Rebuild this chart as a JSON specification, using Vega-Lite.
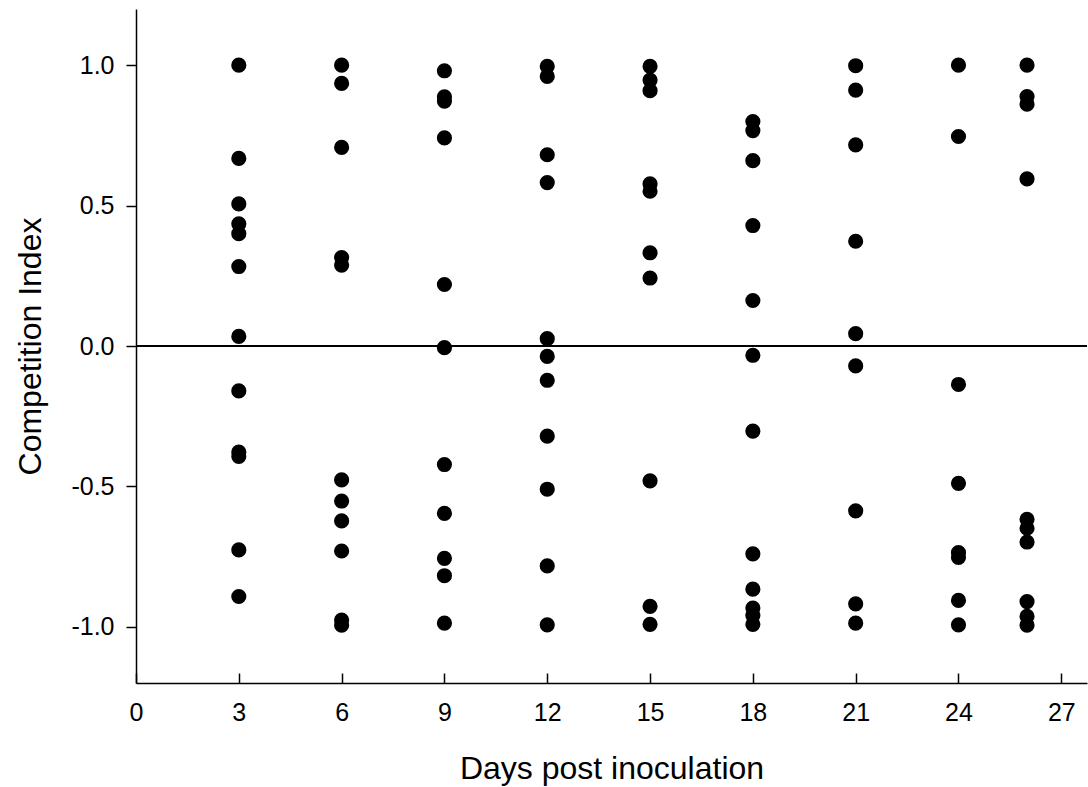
{
  "$schema": "https://vega.github.io/schema/vega-lite/v6.json",
  "width": 951,
  "height": 674,
  "autosize": {"type": "none"},
  "padding": {"left": 136, "top": 9, "right": 1, "bottom": 104},
  "background": "white",
  "config": {
    "view": {"stroke": null},
    "font": "Liberation Sans",
    "axis": {"domainColor": "black", "domainWidth": 1.5, "tickColor": "black", "tickWidth": 1.5, "labelColor": "black", "titleColor": "black", "labelFont": "Liberation Sans", "titleFont": "Liberation Sans", "labelFontSize": 25, "titleFontWeight": "normal", "grid": false}
  },
  "data": {"values": [
    {"day": 3, "ci": 1.0}, {"day": 3, "ci": 0.668}, {"day": 3, "ci": 0.506}, {"day": 3, "ci": 0.435}, {"day": 3, "ci": 0.40}, {"day": 3, "ci": 0.283}, {"day": 3, "ci": 0.034}, {"day": 3, "ci": -0.16}, {"day": 3, "ci": -0.378}, {"day": 3, "ci": -0.393}, {"day": 3, "ci": -0.726}, {"day": 3, "ci": -0.892},
    {"day": 6, "ci": 1.0}, {"day": 6, "ci": 0.935}, {"day": 6, "ci": 0.707}, {"day": 6, "ci": 0.315}, {"day": 6, "ci": 0.288}, {"day": 6, "ci": -0.477}, {"day": 6, "ci": -0.552}, {"day": 6, "ci": -0.623}, {"day": 6, "ci": -0.730}, {"day": 6, "ci": -0.976}, {"day": 6, "ci": -0.994},
    {"day": 9, "ci": 0.98}, {"day": 9, "ci": 0.887}, {"day": 9, "ci": 0.872}, {"day": 9, "ci": 0.741}, {"day": 9, "ci": 0.219}, {"day": 9, "ci": -0.006}, {"day": 9, "ci": -0.422}, {"day": 9, "ci": -0.596}, {"day": 9, "ci": -0.756}, {"day": 9, "ci": -0.818}, {"day": 9, "ci": -0.987},
    {"day": 12, "ci": 0.996}, {"day": 12, "ci": 0.96}, {"day": 12, "ci": 0.681}, {"day": 12, "ci": 0.582}, {"day": 12, "ci": 0.026}, {"day": 12, "ci": -0.037}, {"day": 12, "ci": -0.122}, {"day": 12, "ci": -0.321}, {"day": 12, "ci": -0.510}, {"day": 12, "ci": -0.783}, {"day": 12, "ci": -0.993},
    {"day": 15, "ci": 0.996}, {"day": 15, "ci": 0.947}, {"day": 15, "ci": 0.909}, {"day": 15, "ci": 0.577}, {"day": 15, "ci": 0.551}, {"day": 15, "ci": 0.332}, {"day": 15, "ci": 0.242}, {"day": 15, "ci": -0.48}, {"day": 15, "ci": -0.927}, {"day": 15, "ci": -0.991},
    {"day": 18, "ci": 0.799}, {"day": 18, "ci": 0.767}, {"day": 18, "ci": 0.66}, {"day": 18, "ci": 0.429}, {"day": 18, "ci": 0.162}, {"day": 18, "ci": -0.033}, {"day": 18, "ci": -0.303}, {"day": 18, "ci": -0.740}, {"day": 18, "ci": -0.866}, {"day": 18, "ci": -0.933}, {"day": 18, "ci": -0.96}, {"day": 18, "ci": -0.991},
    {"day": 21, "ci": 0.998}, {"day": 21, "ci": 0.911}, {"day": 21, "ci": 0.716}, {"day": 21, "ci": 0.373}, {"day": 21, "ci": 0.044}, {"day": 21, "ci": -0.071}, {"day": 21, "ci": -0.587}, {"day": 21, "ci": -0.918}, {"day": 21, "ci": -0.987},
    {"day": 24, "ci": 1.0}, {"day": 24, "ci": 0.746}, {"day": 24, "ci": -0.137}, {"day": 24, "ci": -0.489}, {"day": 24, "ci": -0.736}, {"day": 24, "ci": -0.753}, {"day": 24, "ci": -0.906}, {"day": 24, "ci": -0.993},
    {"day": 26, "ci": 1.0}, {"day": 26, "ci": 0.888}, {"day": 26, "ci": 0.861}, {"day": 26, "ci": 0.595}, {"day": 26, "ci": -0.617}, {"day": 26, "ci": -0.649}, {"day": 26, "ci": -0.698}, {"day": 26, "ci": -0.91}, {"day": 26, "ci": -0.963}, {"day": 26, "ci": -0.994}
  ]},
  "layer": [
    {
      "mark": {"type": "rule", "color": "black", "strokeWidth": 1.2},
      "encoding": {"y": {"datum": 0, "type": "quantitative", "scale": {"domain": [-1.2, 1.2]}}}
    },
    {
      "mark": {"type": "circle", "color": "black", "opacity": 1, "size": 230},
      "encoding": {
        "x": {"field": "day", "type": "quantitative", "title": "Days post inoculation",
              "scale": {"domain": [0, 27.75], "nice": false, "zero": false},
              "axis": {"values": [0, 3, 6, 9, 12, 15, 18, 21, 24, 27], "tickSize": -10, "labelPadding": 27, "titlePadding": 28, "titleFontSize": 32, "labelFlush": false}},
        "y": {"field": "ci", "type": "quantitative", "title": "Competition Index",
              "scale": {"domain": [-1.2, 1.2], "nice": false},
              "axis": {"values": [-1, -0.5, 0, 0.5, 1], "format": ".1f", "labelExpr": "replace(datum.label, '\u2212', '-')", "tickSize": 10, "labelPadding": 12, "titlePadding": 23, "titleFontSize": 32}}
      }
    }
  ]
}
